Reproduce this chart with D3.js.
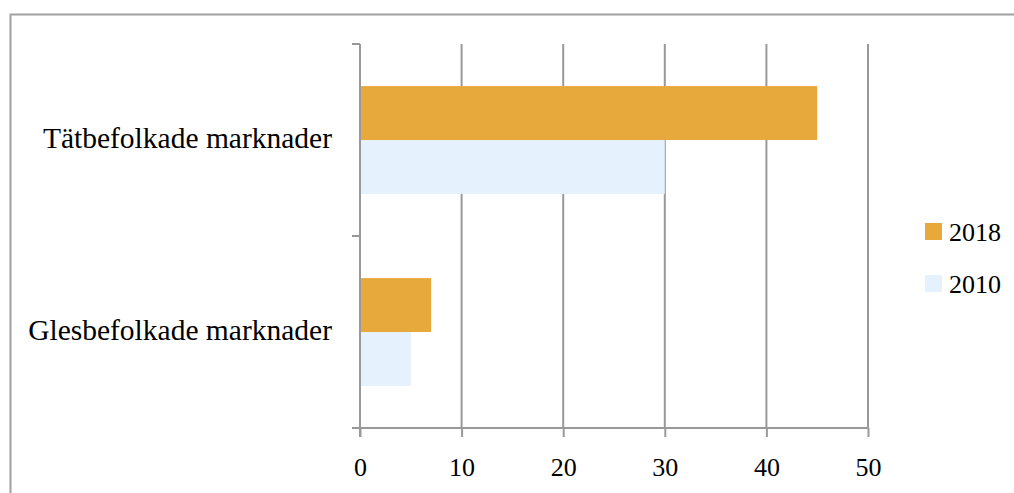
<!DOCTYPE html>
<html>
<head>
<meta charset="utf-8">
<script src="https://cdn.jsdelivr.net/npm/d3@7/dist/d3.min.js"></script>
<style>
  html, body { margin: 0; padding: 0; background: #fff; }
  svg { display: block; }
  text { font-family: "Liberation Serif", "Times New Roman", serif; fill: #000; }
</style>
</head>
<body>
<svg id="chart" width="1014" height="493"></svg>
<script>
// Categories (top to bottom) and values per series
const categories = ["Tätbefolkade marknader", "Glesbefolkade marknader"];
const seriesNames = ["2018", "2010"];
const values2018 = [45, 7];
const values2010 = [30, 5];
const xTicks = [0, 10, 20, 30, 40, 50];
const seriesColors = ["#E8A93C", "#E5F1FD"];

const svg = d3.select("#chart");
const gridColor = "#999999";

// Outer frame
svg.append("rect")
  .attr("x", 10.5).attr("y", 14.5)
  .attr("width", 1100).attr("height", 600)
  .attr("fill", "none")
  .attr("stroke", "#A0A0A0")
  .attr("stroke-width", 2);

const plot = { left: 360, right: 868, top: 44, bottom: 428 };

const x = d3.scaleLinear().domain([0, 50]).range([plot.left, plot.right]);
const y = d3.scaleBand().domain(categories).range([plot.top, plot.bottom]);
const inner = d3.scaleBand().domain(seriesNames)
  .range([0, y.bandwidth()]).paddingOuter(0.78).paddingInner(0);

// Vertical gridlines
svg.append("g")
  .selectAll("line")
  .data(xTicks)
  .join("line")
  .attr("x1", d => x(d)).attr("x2", d => x(d))
  .attr("y1", plot.top).attr("y2", plot.bottom)
  .attr("stroke", gridColor)
  .attr("stroke-width", 2);

// Bars
const rows = categories.map((c, i) => ({ cat: c, vals: [values2018[i], values2010[i]] }));
svg.append("g")
  .selectAll("g")
  .data(rows)
  .join("g")
  .attr("transform", d => `translate(0,${y(d.cat)})`)
  .selectAll("rect")
  .data(d => d.vals.map((v, j) => ({ name: seriesNames[j], v, j })))
  .join("rect")
  .attr("x", x(0) + 1)
  .attr("y", d => inner(d.name))
  .attr("width", d => x(d.v) - x(0) - 1)
  .attr("height", inner.bandwidth())
  .attr("fill", d => seriesColors[d.j]);

// Y axis (category boundaries as ticks)
const yAxisG = svg.append("g");
yAxisG.append("line")
  .attr("x1", plot.left).attr("x2", plot.left)
  .attr("y1", plot.top).attr("y2", plot.bottom + 9)
  .attr("stroke", gridColor).attr("stroke-width", 2);
const boundaries = [plot.top, ...categories.map(c => y(c) + y.bandwidth())];
yAxisG.selectAll("line.tick")
  .data(boundaries)
  .join("line")
  .attr("class", "tick")
  .attr("x1", plot.left - 8).attr("x2", plot.left)
  .attr("y1", d => d).attr("y2", d => d)
  .attr("stroke", gridColor).attr("stroke-width", 2);

yAxisG.selectAll("text")
  .data(categories)
  .join("text")
  .attr("x", 332)
  .attr("y", d => y(d) + y.bandwidth() / 2 + 8)
  .attr("text-anchor", "end")
  .attr("font-size", 29.5)
  .text(d => d);

// X axis
const xAxis = d3.axisBottom(x).tickValues(xTicks).tickSize(9).tickPadding(21)
  .tickFormat(d3.format("d"));
const xAxisG = svg.append("g")
  .attr("transform", `translate(0,${plot.bottom})`)
  .call(xAxis);
xAxisG.select(".domain").remove();
xAxisG.append("line")
  .attr("x1", plot.left - 8).attr("x2", plot.right)
  .attr("stroke", gridColor).attr("stroke-width", 2);
xAxisG.selectAll(".tick line").attr("stroke", gridColor).attr("stroke-width", 2);
xAxisG.selectAll(".tick text")
  .attr("font-family", "Liberation Serif, serif")
  .attr("font-size", 26)
  .attr("fill", "#000");

// Legend
const legend = svg.append("g");
const legendItems = legend.selectAll("g")
  .data(seriesNames)
  .join("g")
  .attr("transform", (d, i) => `translate(925,${223 + i * 52})`);
legendItems.append("rect")
  .attr("width", 17).attr("height", 17)
  .attr("fill", (d, i) => seriesColors[i]);
legendItems.append("text")
  .attr("x", 24).attr("y", 17.5)
  .attr("font-size", 26)
  .text(d => d);
</script>
</body>
</html>
